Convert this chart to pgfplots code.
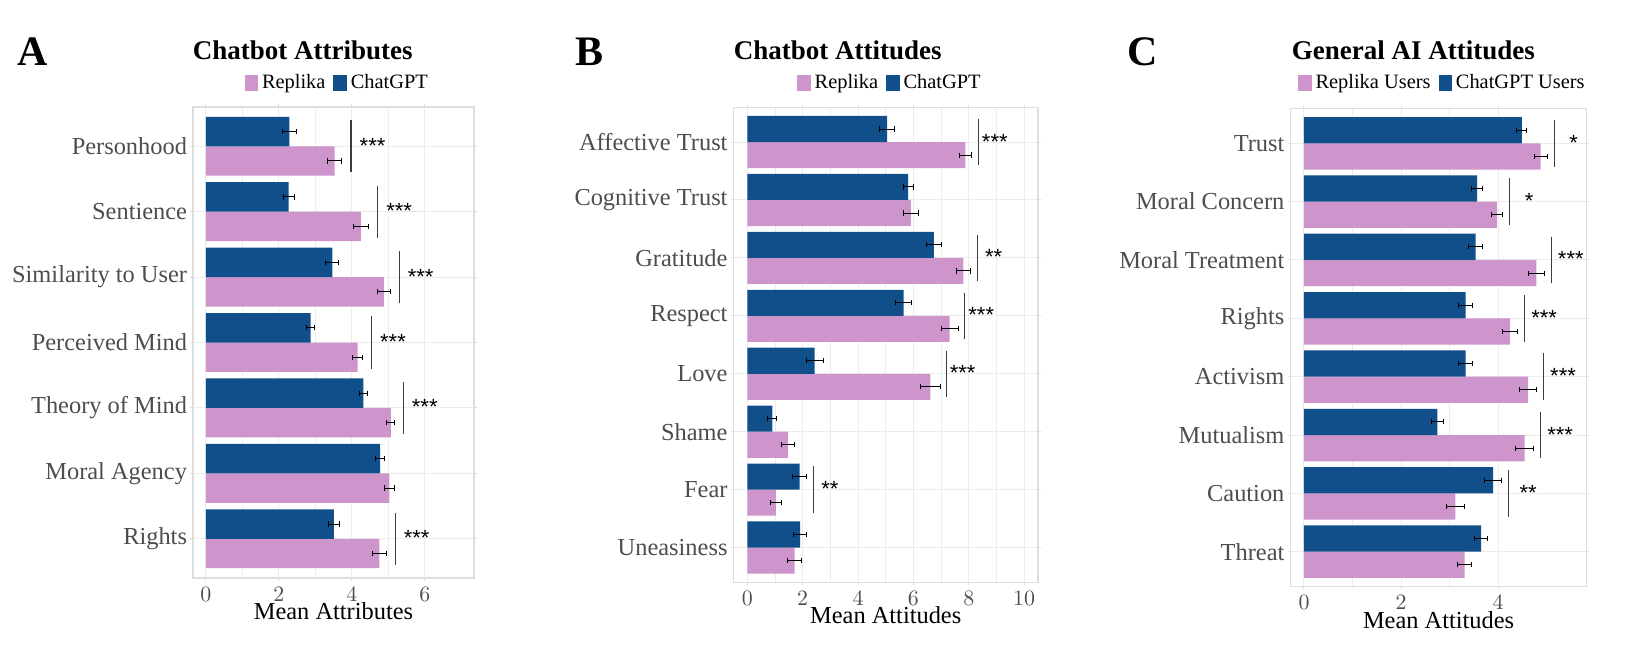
\documentclass[border=0pt]{standalone}
\usepackage{fontspec}
\setmainfont{Liberation Serif}
\newfontfamily\starfont{Liberation Sans}
\usepackage{pgfplots}
\pgfplotsset{compat=1.18}

\definecolor{replika}{RGB}{205,149,203}
\definecolor{chatgpt}{RGB}{17,79,139}
\definecolor{ticktext}{RGB}{77,77,77}
\definecolor{gridcol}{RGB}{236,236,236}
\definecolor{framecol}{RGB}{222,222,222}
\definecolor{sigcol}{RGB}{60,60,60}

\newcommand{\fs}[1]{\fontsize{#1}{#1}\selectfont}
\tikzset{stars/.style={font=\starfont\fs{11}, anchor=base, yshift=-3.5pt}}

\pgfplotsset{
  panel/.style={
    scale only axis, clip=false,
    y dir=reverse, bar width=0.45,
    axis line style={framecol, line width=0.6pt},
    tick align=outside, major tick length=1.3pt,
    tick style={framecol, line width=0.5pt},
    minor x tick num=1, minor tick length=0pt,
    xmajorgrids, xminorgrids, ymajorgrids,
    major grid style={gridcol, line width=0.5pt},
    minor grid style={gridcol, line width=0.3pt},
    yticklabel style={font=\fs{12.2}, text=ticktext, inner sep=0pt, xshift=-1.5pt},
    xticklabel style={font=\fs{10.5}, text=ticktext, inner sep=0pt, yshift=-3pt},
    x label style={font=\fs{12.2}, inner sep=0pt, at={(axis description cs:0.5,0)}, anchor=base, yshift=-20.7pt},
    legend columns=2,
    legend style={draw=none, fill=none, font=\fs{10.2}, inner sep=0pt,
      /tikz/every even column/.append style={column sep=2pt}},
    legend image code/.code={\fill[##1] (0pt,-4.15pt) rectangle (6.7pt,4.15pt);},
  },
  bars/.style={xbar, draw=none, bar shift=0pt,
    error bars/x dir=both, error bars/x explicit, error bars/error mark=|,
    error bars/error bar style={black, line width=0.5pt},
    error bars/error mark options={black, mark size=1.3pt, line width=0.5pt}},
  rep/.style={bars, fill=replika},
  gpt/.style={bars, fill=chatgpt},
  sig/.style={sigcol, line width=0.55pt, forget plot},
}

\begin{document}
\begin{tikzpicture}
\path[use as bounding box] (0,0) rectangle (817.5pt,332pt);

% ---------------- A ----------------
\node[font=\bfseries\fs{21}, anchor=base west, inner sep=0pt] at (8.65pt,299.15pt) {A};
\node[font=\bfseries\fs{13.5}, anchor=base] at (151.4pt,302.35pt) {Chatbot Attributes};
\begin{axis}[panel,
  at={(96.5pt,43pt)}, anchor=south west,
  width=140.5pt, height=235.5pt,
  xmin=-0.35, xmax=7.35, ymin=-0.6, ymax=6.6,
  xtick={0,2,4,6},
  ytick={0,...,6},
  yticklabels={Personhood,Sentience,Similarity to User,Perceived Mind,Theory of Mind,Moral Agency,Rights},
  xlabel={Mean Attributes},
  legend style={at={(0.517,1.051)}, anchor=center},
]
% Replika bars sit below the category centre, ChatGPT bars above it
\addplot[rep] coordinates {
(3.53,0.225) +- (0.20,0)
(4.25,1.225) +- (0.21,0)
(4.88,2.225) +- (0.18,0)
(4.16,3.225) +- (0.14,0)
(5.07,4.225) +- (0.11,0)
(5.03,5.225) +- (0.13,0)
(4.76,6.225) +- (0.18,0)
};
\addplot[gpt] coordinates {
(2.29,-0.225) +- (0.20,0)
(2.27,0.775) +- (0.15,0)
(3.47,1.775) +- (0.18,0)
(2.87,2.775) +- (0.11,0)
(4.32,3.775) +- (0.11,0)
(4.78,4.775) +- (0.12,0)
(3.51,5.775) +- (0.15,0)
};
\legend{Replika,ChatGPT}
\addplot[sig] coordinates {(3.98,-0.4) (3.98,0.4)};
\addplot[sig] coordinates {(4.71,0.6) (4.71,1.4)};
\addplot[sig] coordinates {(5.30,1.6) (5.30,2.4)};
\addplot[sig] coordinates {(4.54,2.6) (4.54,3.4)};
\addplot[sig] coordinates {(5.41,3.6) (5.41,4.4)};
\addplot[sig] coordinates {(5.19,5.6) (5.19,6.4)};
\node[stars] at (axis cs:4.57,0) {***};
\node[stars] at (axis cs:5.30,1) {***};
\node[stars] at (axis cs:5.89,2) {***};
\node[stars] at (axis cs:5.13,3) {***};
\node[stars] at (axis cs:6.00,4) {***};
\node[stars] at (axis cs:5.78,6) {***};
\end{axis}

% ---------------- B ----------------
\node[font=\bfseries\fs{21}, anchor=base west, inner sep=0pt] at (287.5pt,299.15pt) {B};
\node[font=\bfseries\fs{13.5}, anchor=base] at (418.85pt,302.35pt) {Chatbot Attitudes};
\begin{axis}[panel,
  at={(366.75pt,40.85pt)}, anchor=south west,
  width=152.25pt, height=237.5pt,
  xmin=-0.5, xmax=10.5, ymin=-0.6, ymax=7.6,
  xtick={0,2,4,6,8,10},
  ytick={0,...,7},
  yticklabels={Affective Trust,Cognitive Trust,Gratitude,Respect,Love,Shame,Fear,Uneasiness},
  xlabel={Mean Attitudes},
  legend style={at={(0.517,1.051)}, anchor=center},
]
\addplot[rep] coordinates {
(7.88,0.225) +- (0.22,0)
(5.91,1.225) +- (0.26,0)
(7.80,2.225) +- (0.26,0)
(7.31,3.225) +- (0.31,0)
(6.61,4.225) +- (0.35,0)
(1.46,5.225) +- (0.23,0)
(1.03,6.225) +- (0.19,0)
(1.71,7.225) +- (0.26,0)
};
\addplot[gpt] coordinates {
(5.05,-0.225) +- (0.26,0)
(5.81,0.775) +- (0.18,0)
(6.74,1.775) +- (0.28,0)
(5.65,2.775) +- (0.29,0)
(2.43,3.775) +- (0.31,0)
(0.90,4.775) +- (0.16,0)
(1.89,5.775) +- (0.25,0)
(1.91,6.775) +- (0.23,0)
};
\legend{Replika,ChatGPT}
\addplot[sig] coordinates {(8.34,-0.4) (8.34,0.4)};
\addplot[sig] coordinates {(8.30,1.6) (8.30,2.4)};
\addplot[sig] coordinates {(7.85,2.6) (7.85,3.4)};
\addplot[sig] coordinates {(7.18,3.6) (7.18,4.4)};
\addplot[sig] coordinates {(2.38,5.6) (2.38,6.4)};
\node[stars] at (axis cs:8.94,0) {***};
\node[stars] at (axis cs:8.90,2) {**};
\node[stars] at (axis cs:8.45,3) {***};
\node[stars] at (axis cs:7.78,4) {***};
\node[stars] at (axis cs:2.98,6) {**};
\end{axis}

% ---------------- C ----------------
\node[font=\bfseries\fs{21}, anchor=base west, inner sep=0pt] at (563.6pt,299.15pt) {C};
\node[font=\bfseries\fs{13.5}, anchor=base] at (706.7pt,302.35pt) {General AI Attitudes};
\begin{axis}[panel,
  at={(645.2pt,38.65pt)}, anchor=south west,
  width=148.2pt, height=239.2pt,
  xmin=-0.28, xmax=5.83, ymin=-0.6, ymax=7.6,
  xtick={0,2,4},
  ytick={0,...,7},
  yticklabels={Trust,Moral Concern,Moral Treatment,Rights,Activism,Mutualism,Caution,Threat},
  xlabel={Mean Attitudes},
  legend style={at={(0.516,1.053)}, anchor=center},
]
\addplot[rep] coordinates {
(4.88,0.225) +- (0.13,0)
(3.98,1.225) +- (0.12,0)
(4.79,2.225) +- (0.17,0)
(4.25,3.225) +- (0.15,0)
(4.62,4.225) +- (0.17,0)
(4.55,5.225) +- (0.18,0)
(3.12,6.225) +- (0.18,0)
(3.31,7.225) +- (0.14,0)
};
\addplot[gpt] coordinates {
(4.49,-0.225) +- (0.10,0)
(3.57,0.775) +- (0.11,0)
(3.54,1.775) +- (0.15,0)
(3.33,2.775) +- (0.14,0)
(3.33,3.775) +- (0.15,0)
(2.75,4.775) +- (0.13,0)
(3.90,5.775) +- (0.17,0)
(3.65,6.775) +- (0.13,0)
};
\legend{Replika Users,ChatGPT Users}
\addplot[sig] coordinates {(5.16,-0.4) (5.16,0.4)};
\addplot[sig] coordinates {(4.24,0.6) (4.24,1.4)};
\addplot[sig] coordinates {(5.10,1.6) (5.10,2.4)};
\addplot[sig] coordinates {(4.54,2.6) (4.54,3.4)};
\addplot[sig] coordinates {(4.94,3.6) (4.94,4.4)};
\addplot[sig] coordinates {(4.88,4.6) (4.88,5.4)};
\addplot[sig] coordinates {(4.22,5.6) (4.22,6.4)};
\node[stars] at (axis cs:5.56,0) {*};
\node[stars] at (axis cs:4.64,1) {*};
\node[stars] at (axis cs:5.50,2) {***};
\node[stars] at (axis cs:4.95,3) {***};
\node[stars] at (axis cs:5.34,4) {***};
\node[stars] at (axis cs:5.28,5) {***};
\node[stars] at (axis cs:4.62,6) {**};
\end{axis}
\end{tikzpicture}
\end{document}
